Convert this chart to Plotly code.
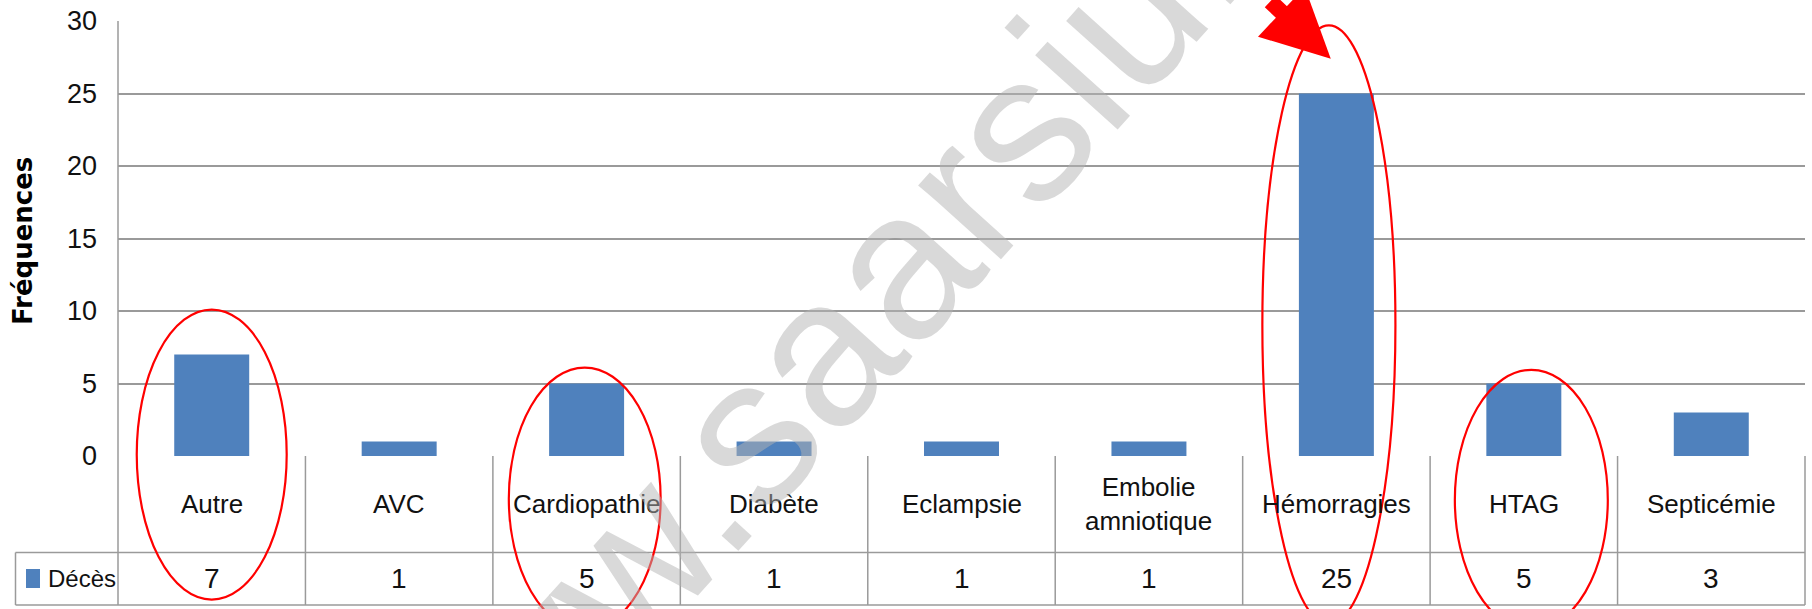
import plotly.graph_objects as go

# ---- data -------------------------------------------------------------
categories = ["Autre", "AVC", "Cardiopathie", "Diabète", "Eclampsie",
              "Embolie amniotique", "Hémorragies", "HTAG", "Septicémie"]
category_labels = ["Autre", "AVC", "Cardiopathie", "Diabète", "Eclampsie",
                   "Embolie<br>amniotique", "Hémorragies", "HTAG", "Septicémie"]
deces = [7, 1, 5, 1, 1, 1, 25, 5, 3]
series_name = "Décès"
y_ticks = [0, 5, 10, 15, 20, 25, 30]
y_title = "Fréquences"
watermark = "www.saarsiu.com"

# red rings: category, centre shift, half width (category units), top, bottom (axis units)
highlights = [
    ("Autre", 0.0, 0.40, 10.1, -9.9),
    ("Cardiopathie", -0.01, 0.405, 6.1, -12.0),
    ("Hémorragies", -0.04, 0.355, 29.7, -11.6),
    ("HTAG", 0.04, 0.408, 5.94, -12.0),
]
arrow_target = ("Hémorragies", -0.03, 27.4)

# ---- geometry ---------------------------------------------------------
W, H = 1812, 609
ML, MR, MT, MB = 118, 7, 21, 153
PW, PH = W - ML - MR, H - MT - MB
Y_MAX = 30


def paper_x(px):
    return (px - ML) / PW


def paper_y(py):
    return (H - MB - py) / PH


ROW_TOP = H - MB          # axis baseline / top of the category row
ROW_MID = 552.5           # between category row and value row
ROW_BOT = 605             # bottom of the data table
LEGEND_LEFT = 15.5

BLUE = "#4F81BD"
GRID = "#9a9a9a"
TEXT_FONT = "Liberation Sans, Arial, sans-serif"

fig = go.Figure()
fig.add_trace(go.Bar(
    x=categories, y=deces, name=series_name,
    marker=dict(color=BLUE, line=dict(width=0)),
    width=0.4, showlegend=False,
))

shapes = []
line_style = dict(color=GRID, width=1.5)

# left frame of the plot + table
shapes.append(dict(type="line", xref="paper", yref="paper",
                   x0=0, x1=0, y0=paper_y(ROW_BOT), y1=1, line=line_style))
# right frame of the table
shapes.append(dict(type="line", xref="paper", yref="paper",
                   x0=1, x1=1, y0=paper_y(ROW_BOT), y1=0, line=line_style))
# column separators
for i in range(len(categories) - 1):
    shapes.append(dict(type="line", xref="x", yref="paper",
                       x0=i + 0.5, x1=i + 0.5,
                       y0=paper_y(ROW_BOT), y1=0, line=line_style))
# horizontal rules of the value row
for py in (ROW_MID, ROW_BOT):
    shapes.append(dict(type="line", xref="paper", yref="paper",
                       x0=paper_x(LEGEND_LEFT), x1=1,
                       y0=paper_y(py), y1=paper_y(py), line=line_style))
# legend cell left border
shapes.append(dict(type="line", xref="paper", yref="paper",
                   x0=paper_x(LEGEND_LEFT), x1=paper_x(LEGEND_LEFT),
                   y0=paper_y(ROW_BOT), y1=paper_y(ROW_MID), line=line_style))
# legend key
shapes.append(dict(type="rect", xref="paper", yref="paper",
                   x0=paper_x(26), x1=paper_x(40),
                   y0=paper_y(588), y1=paper_y(569),
                   fillcolor=BLUE, line=dict(width=0)))

# red rings around the highlighted causes
for name, shift, hw, top, bottom in highlights:
    c = categories.index(name) + shift
    shapes.append(dict(type="circle", xref="x", yref="paper",
                       x0=c - hw, x1=c + hw,
                       y0=bottom / Y_MAX, y1=top / Y_MAX,
                       line=dict(color="#FF0000", width=2.2),
                       fillcolor="rgba(0,0,0,0)", layer="above"))

annotations = []
row_cat_y = paper_y((ROW_TOP + ROW_MID) / 2)
row_val_y = paper_y((ROW_MID + ROW_BOT) / 2)
for cat, lab, v in zip(categories, category_labels, deces):
    annotations.append(dict(x=cat, y=row_cat_y, xref="x", yref="paper",
                            text=lab, showarrow=False,
                            xanchor="center", yanchor="middle",
                            font=dict(family=TEXT_FONT, size=26, color="#111111")))
    annotations.append(dict(x=cat, y=row_val_y, xref="x", yref="paper",
                            text=str(v), showarrow=False,
                            xanchor="center", yanchor="middle",
                            font=dict(family=TEXT_FONT, size=28, color="#111111")))

annotations.append(dict(x=paper_x(46), y=row_val_y, xref="paper", yref="paper",
                        text=series_name, showarrow=False,
                        xanchor="left", yanchor="middle",
                        font=dict(family=TEXT_FONT, size=24, color="#111111")))

annotations.append(dict(x=paper_x(23), y=paper_y(241), xref="paper", yref="paper",
                        text="<b>" + y_title + "</b>", showarrow=False,
                        textangle=-90, xanchor="center", yanchor="middle",
                        font=dict(family="DejaVu Sans", size=26, color="#000000")))

# watermark across the chart
annotations.append(dict(x=paper_x(921), y=paper_y(239.5), xref="paper", yref="paper",
                        text=watermark, showarrow=False, textangle=-48,
                        xanchor="center", yanchor="middle",
                        font=dict(family="Liberation Sans, Arial, sans-serif",
                                  size=210, color="rgba(180,180,180,0.5)")))

# red pointer onto the tallest bar
name, shift, yv = arrow_target
annotations.append(dict(x=categories.index(name) + shift, y=yv, xref="x", yref="y",
                        text="", showarrow=True, arrowhead=2, arrowsize=0.85,
                        arrowwidth=16, arrowcolor="#FF0000",
                        ax=-62, ay=-82, axref="pixel", ayref="pixel"))

fig.update_layout(
    width=W, height=H,
    margin=dict(l=ML, r=MR, t=MT, b=MB, pad=0),
    paper_bgcolor="white", plot_bgcolor="white",
    bargap=0.6,
    xaxis=dict(type="category", range=[-0.5, len(categories) - 0.5],
               showticklabels=False, showgrid=False, zeroline=False,
               showline=False, ticks=""),
    yaxis=dict(range=[0, Y_MAX], tickvals=y_ticks, showgrid=True,
               gridcolor=GRID, gridwidth=1.5, zeroline=False, showline=False,
               ticks="", ticklabelstandoff=20,
               tickfont=dict(family="Liberation Sans, Arial, sans-serif",
                             size=27, color="#111111")),
    shapes=shapes,
    annotations=annotations,
)

fig.write_html("out.html")
